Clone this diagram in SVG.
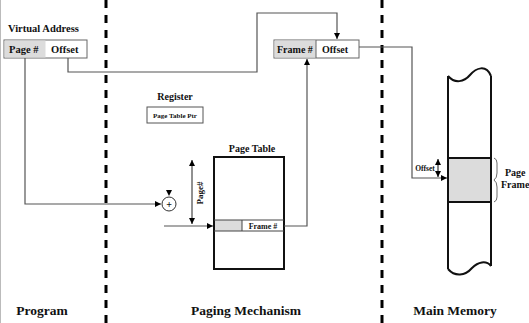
<svg xmlns="http://www.w3.org/2000/svg" width="529" height="323" viewBox="0 0 529 323">
<defs>
<style>
text{font-family:"Liberation Serif","Times New Roman",serif;font-weight:bold;fill:#111}
.div{stroke:#000;stroke-width:3;stroke-dasharray:8 7;fill:none}
.con{stroke:#555;stroke-width:1.2;fill:none}
.box{stroke:#111;stroke-width:2;fill:#fff}
.thin{stroke:#666;stroke-width:1;fill:#fff}
.gray{fill:#dcdcdc}
.lbl{font-size:13.5px;text-anchor:middle}
</style>
<marker id="ah" viewBox="0 0 10 10" refX="10" refY="5" markerWidth="6" markerHeight="6" orient="auto-start-reverse" markerUnits="userSpaceOnUse">
<path d="M0,0 L10,5 L0,10 z" fill="#000"/>
</marker>
</defs>
<rect width="529" height="323" fill="#fff"/>
<line x1="0.5" y1="0" x2="0.5" y2="323" stroke="#bbb" stroke-width="1"/>

<g id="dividers">
<line class="div" x1="106" y1="0" x2="106" y2="323"/>
<line class="div" x1="382" y1="0" x2="382" y2="323"/>
</g>

<g id="virtual-address">
<text x="8" y="32" font-size="10.5">Virtual Address</text>
<rect class="thin" x="4" y="40" width="83" height="18"/>
<rect class="gray" x="4.5" y="40.5" width="41" height="17"/>
<text x="9" y="53" font-size="10.5">Page #</text>
<text x="51" y="53" font-size="10.5">Offset</text>
</g>

<g id="physical-address">
<rect class="thin" x="274" y="40" width="85" height="18"/>
<rect class="gray" x="274.5" y="40.5" width="41.5" height="17"/>
<line x1="316" y1="40" x2="316" y2="58" stroke="#666" stroke-width="1"/>
<text x="277" y="53" font-size="10">Frame #</text>
<text x="322" y="53" font-size="10">Offset</text>
</g>

<g id="register">
<text x="175" y="100" font-size="10" text-anchor="middle">Register</text>
<rect x="147" y="107" width="56" height="16" fill="#fff" stroke="#555" stroke-width="1"/>
<text x="175" y="118" font-size="7" text-anchor="middle">Page Table Ptr</text>
</g>

<g id="adder">
<circle cx="169" cy="204" r="7" fill="#fff" stroke="#333" stroke-width="1"/>
<text x="169" y="208" font-size="10" text-anchor="middle" font-weight="normal">+</text>
<path d="M166,190 L172,190 L169,196 z" fill="#000"/>
</g>

<g id="page-table">
<text x="252" y="152" font-size="10" text-anchor="middle">Page Table</text>
<rect class="box" x="214" y="157" width="70" height="112"/>
<rect class="gray" x="215" y="220" width="27" height="11"/>
<line x1="214" y1="220" x2="284" y2="220" stroke="#444" stroke-width="1"/>
<line x1="214" y1="231" x2="284" y2="231" stroke="#444" stroke-width="1"/>
<line x1="242" y1="220" x2="242" y2="231" stroke="#444" stroke-width="1"/>
<text x="263" y="229" font-size="8" text-anchor="middle">Frame #</text>
<line x1="192" y1="160" x2="192" y2="224" stroke="#222" stroke-width="1" marker-start="url(#ah)" marker-end="url(#ah)"/>
<text transform="translate(203,193) rotate(-90)" font-size="9" text-anchor="middle">Page#</text>
</g>

<g id="main-memory">
<rect class="gray" x="449" y="158" width="41" height="44"/>
<path d="M448,76 C455,84 464,82 470,75 C476,68 486,64 491,76" class="box" fill="none"/>
<line x1="448" y1="76" x2="448" y2="269" stroke="#111" stroke-width="2"/>
<line x1="491" y1="76" x2="491" y2="266" stroke="#111" stroke-width="2"/>
<path d="M448,269 C455,277 465,276 472,268 C478,262 486,260 491,266" stroke="#111" stroke-width="2" fill="none"/>
<line x1="448" y1="158" x2="491" y2="158" stroke="#111" stroke-width="2"/>
<line x1="448" y1="202" x2="491" y2="202" stroke="#111" stroke-width="2"/>
<line x1="438" y1="159" x2="438" y2="177" stroke="#111" stroke-width="1" marker-start="url(#ah)" marker-end="url(#ah)"/>
<text x="425" y="171" font-size="7.5" text-anchor="middle">Offset</text>
<path d="M494,158 q3,1 3,5 v10 q0,5 -3,7 q3,2 3,7 v10 q0,4 -3,5" stroke="#444" stroke-width="0.8" fill="none"/>
<text x="505" y="176" font-size="10">Page</text>
<text x="501" y="188" font-size="10">Frame</text>
</g>

<g id="connectors">
<polyline class="con" points="25,58 25,204 161,204" marker-end="url(#ah)"/>
<polyline class="con" points="68,58 68,72 257,72 257,13 337,13 337,39" marker-end="url(#ah)"/>
<line class="con" x1="164" y1="226" x2="213" y2="226" marker-end="url(#ah)"/>
<polyline class="con" points="284,226 307,226 307,59" marker-end="url(#ah)"/>
<polyline class="con" points="359,47 412,47 412,178 447,178" marker-end="url(#ah)"/>
</g>

<g id="section-labels">
<text class="lbl" x="42" y="315">Program</text>
<text class="lbl" x="246" y="315">Paging Mechanism</text>
<text class="lbl" x="455" y="315">Main Memory</text>
</g>
</svg>
